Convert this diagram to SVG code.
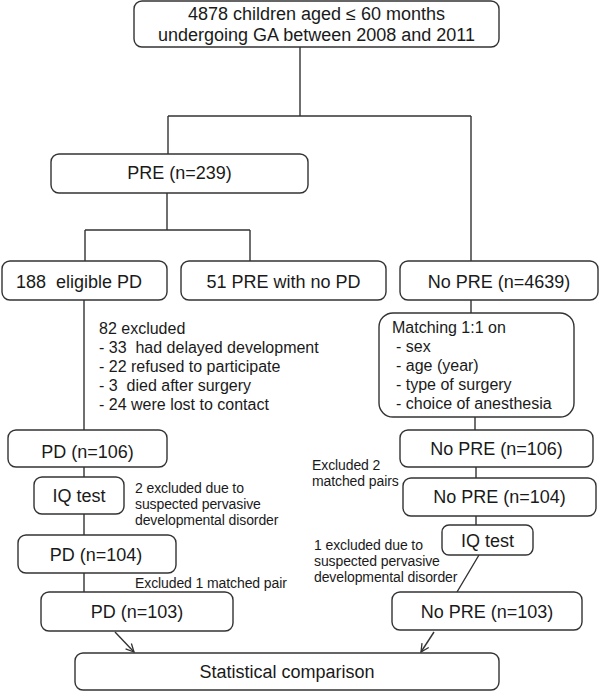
<svg xmlns="http://www.w3.org/2000/svg" width="600" height="692" viewBox="0 0 600 692">
<defs>
<style>
.b{fill:#fff;stroke:#333;stroke-width:1.4}
.c{fill:none;stroke:#333;stroke-width:1.4}
text{font-family:"Liberation Sans",Arial,sans-serif;fill:#1a1a1a;white-space:pre}
.t{font-size:18px;text-anchor:middle}
.s{font-size:16px}
.n{font-size:14px;letter-spacing:-0.1px}
</style>
<marker id="ah" markerWidth="10" markerHeight="10" refX="9" refY="5" orient="auto" markerUnits="userSpaceOnUse">
<path d="M1,1 L9,5 L1,9" fill="none" stroke="#333" stroke-width="1.3"/>
</marker>
</defs>
<rect width="600" height="692" fill="#fff"/>
<g id="connectors">
<path class="c" d="M300,47 V116 M168,116 H471 M168,116 V154 M471,116 V261"/>
<path class="c" d="M167,193 V230 M85,230 H250 M85,230 V261 M250,230 V261"/>
<path class="c" d="M84,300 V430 M84,467 V477 M84,514 V535 M84,573 V592"/>
<path class="c" d="M471,300 V313 M475,417 V430 M476,467 V478 M476,516 V525 M479,555 L457,592"/>
<path class="c" d="M115,632 L134,652" marker-end="url(#ah)"/>
<path class="c" d="M434,632 L421,652" marker-end="url(#ah)"/>
</g>
<g id="n_top"><rect class="b" x="134" y="1" width="365" height="46" rx="8"/>
<text class="t" x="316.5" y="20">4878 children aged ≤ 60 months</text>
<text class="t" x="316.5" y="41">undergoing GA between 2008 and 2011</text></g>
<g id="n_pre"><rect class="b" x="51" y="154" width="257" height="39" rx="8"/>
<text class="t" x="179.5" y="179">PRE (n=239)</text></g>
<g id="n_188"><rect class="b" x="2" y="261" width="165" height="39" rx="8"/>
<text class="t" x="79" y="288">188  eligible PD</text></g>
<g id="n_51"><rect class="b" x="181" y="261" width="205" height="39" rx="8"/>
<text class="t" x="283.5" y="288">51 PRE with no PD</text></g>
<g id="n_nopre"><rect class="b" x="400" y="261" width="198" height="39" rx="8"/>
<text class="t" x="499" y="288">No PRE (n=4639)</text></g>
<g id="excl82">
<text class="s" x="99" y="334">82 excluded</text>
<text class="s" x="99" y="353">- 33  had delayed development</text>
<text class="s" x="99" y="372">- 22 refused to participate</text>
<text class="s" x="99" y="391">- 3  died after surgery</text>
<text class="s" x="99" y="410">- 24 were lost to contact</text></g>
<g id="n_match"><rect class="b" x="379" y="313" width="195" height="104" rx="14"/>
<text class="s" x="392" y="333">Matching 1:1 on</text>
<text class="s" x="396" y="352">- sex</text>
<text class="s" x="396" y="371">- age (year)</text>
<text class="s" x="396" y="390">- type of surgery</text>
<text class="s" x="396" y="409">- choice of anesthesia</text></g>
<g id="n_pd106"><rect class="b" x="8" y="430" width="159" height="37" rx="8"/>
<text class="t" x="87.5" y="458">PD (n=106)</text></g>
<g id="n_np106"><rect class="b" x="400" y="430" width="193" height="37" rx="8"/>
<text class="t" x="496.5" y="455">No PRE (n=106)</text></g>
<g id="n_iq1"><rect class="b" x="34" y="477" width="90" height="37" rx="8"/>
<text class="t" x="79" y="502">IQ test</text></g>
<g id="excl2">
<text class="n" x="135" y="493">2 excluded due to</text>
<text class="n" x="135" y="509">suspected pervasive</text>
<text class="n" x="135" y="525">developmental disorder</text></g>
<g id="exclpairs">
<text class="n" x="312" y="470">Excluded 2</text>
<text class="n" x="312" y="486">matched pairs</text></g>
<g id="n_np104"><rect class="b" x="403" y="478" width="193" height="38" rx="8"/>
<text class="t" x="499.5" y="503">No PRE (n=104)</text></g>
<g id="n_iq2"><rect class="b" x="442" y="525" width="91" height="30" rx="7"/>
<text class="t" x="487.5" y="547">IQ test</text></g>
<g id="excl1">
<text class="n" x="314" y="550">1 excluded due to</text>
<text class="n" x="314" y="566">suspected pervasive</text>
<text class="n" x="314" y="582">developmental disorder</text></g>
<g id="n_pd104"><rect class="b" x="18" y="535" width="158" height="38" rx="8"/>
<text class="t" x="96" y="561">PD (n=104)</text></g>
<g id="excl1pair"><text class="n" x="135" y="588">Excluded 1 matched pair</text></g>
<g id="n_pd103"><rect class="b" x="41" y="592" width="192" height="39" rx="8"/>
<text class="t" x="137" y="618">PD (n=103)</text></g>
<g id="n_np103"><rect class="b" x="392" y="592" width="190" height="38" rx="8"/>
<text class="t" x="487" y="618">No PRE (n=103)</text></g>
<g id="n_stat"><rect class="b" x="75" y="653" width="424" height="37" rx="8"/>
<text class="t" x="287" y="678">Statistical comparison</text></g>
</svg>
